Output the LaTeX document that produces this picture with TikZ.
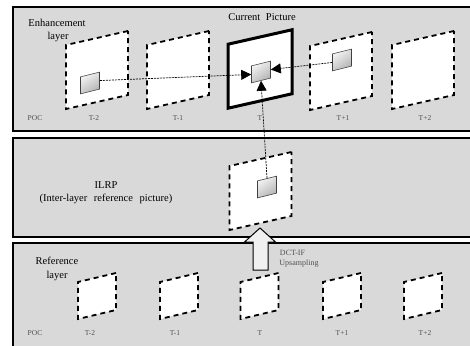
\documentclass[tikz,border=0pt]{standalone}
\usepackage{fontspec}
\setmainfont{Liberation Serif}
\usetikzlibrary{arrows.meta}
\definecolor{panelgray}{RGB}{217,217,217}
\definecolor{pocgray}{RGB}{80,80,80}
\begin{document}
\begin{tikzpicture}[x=1pt,y=-1pt,
  panel/.style={fill=panelgray,draw=black,line width=2pt},
  frame/.style={draw=black,fill=white,line width=1.8pt,dash pattern=on 5pt off 4pt,
    yslant=0.226,inner sep=0pt,minimum width=62pt,minimum height=64pt},
  curframe/.style={draw=black,fill=white,line width=3pt,
    yslant=0.226,inner sep=0pt,minimum width=64pt,minimum height=64pt},
  smallframe/.style={draw=black,fill=white,line width=1.8pt,dash pattern=on 5pt off 4pt,
    yslant=0.237,inner sep=0pt,minimum width=38pt,minimum height=37pt},
  block/.style={draw=black!75,line width=0.6pt,yslant=0.25,inner sep=0pt,
    minimum width=19pt,minimum height=17pt,
    top color=gray!8,bottom color=gray!60,shading angle=35},
  link/.style={line width=0.7pt,dash pattern=on 2pt off 1pt,
    -{Triangle[length=10pt,width=10pt]}},
  lbl/.style={font=\fontsize{10.5}{12}\selectfont,inner sep=0pt},
  poc/.style={font=\fontsize{7.5}{9}\selectfont,text=pocgray,inner sep=0pt},
  note/.style={font=\fontsize{8}{9}\selectfont,text=pocgray,inner sep=0pt}
]
\useasboundingbox (0,0) rectangle (470,345);
\fill[white] (0,0) rectangle (470,345);

% the three layer panels
\draw[panel] (13,7) rectangle (482,131);
\draw[panel] (13,138) rectangle (482,237);
\draw[panel] (13,243) rectangle (482,360);

% enhancement layer pictures
\node[frame] (em2) at (97,70) {};
\node[frame] (em1) at (178,70) {};
\node[curframe] (ec) at (260,69) {};
\node[frame] (ep1) at (341,71) {};
\node[frame] (ep2) at (423,70) {};

\node[block] (bm2) at (90,83) {};
\node[block] (bc) at (261,72) {};
\node[block] (bp1) at (342,60) {};

% inter-layer reference picture
\node[frame] (ilrp) at (260.5,191) {};
\node[block] (bi) at (267,187) {};

% reference layer pictures
\node[smallframe] (rm2) at (97,296) {};
\node[smallframe] (rm1) at (179,296) {};
\node[smallframe] (rc) at (259.5,296) {};
\node[smallframe] (rp1) at (342,296) {};
\node[smallframe] (rp2) at (423,296) {};

% prediction links
\draw[link] (bm2.east) -- (bc.west);
\draw[link] (bp1.west) -- (bc.east);
\draw[link] (bi.north) -- (bc.south);

% upsampling arrow
\draw[fill=gray!12,line width=1pt,line join=miter]
  (260,228) -- (275.5,242) -- (268,242) -- (268,270) -- (253,270) -- (253,242) -- (244.5,242) -- cycle;
\node[note] (dct) at (292.5,253) {DCT-IF};
\node[note] (ups) at (299,264) {Upsampling};

% labels
\node[lbl] (enh) at (57,23) {Enhancement};
\node[lbl] (enhl) at (58,37) {layer};
\node[lbl] (curt) at (262,17) {Current\hspace{3pt} Picture};
\node[lbl] (ilrpt) at (106,185) {ILRP};
\node[lbl] (ilrpd) at (106,199) {(Inter-layer\hspace{4pt} reference\hspace{4pt} picture)};
\node[lbl] (ref) at (57,261) {Reference};
\node[lbl] (refl) at (57,276) {layer};

\foreach \y/\n in {118/e,333/r}{
  \node[poc] (poc\n) at (35,\y) {POC};
}
\node[poc] (te1) at (94,118) {T-2};
\node[poc] (te2) at (178,118) {T-1};
\node[poc] (te3) at (260,118) {T};
\node[poc] (te4) at (343,118) {T+1};
\node[poc] (te5) at (425,118) {T+2};
\node[poc] (tr1) at (90,333) {T-2};
\node[poc] (tr2) at (175,333) {T-1};
\node[poc] (tr3) at (260,333) {T};
\node[poc] (tr4) at (342,333) {T+1};
\node[poc] (tr5) at (425,333) {T+2};
\end{tikzpicture}
\end{document}
